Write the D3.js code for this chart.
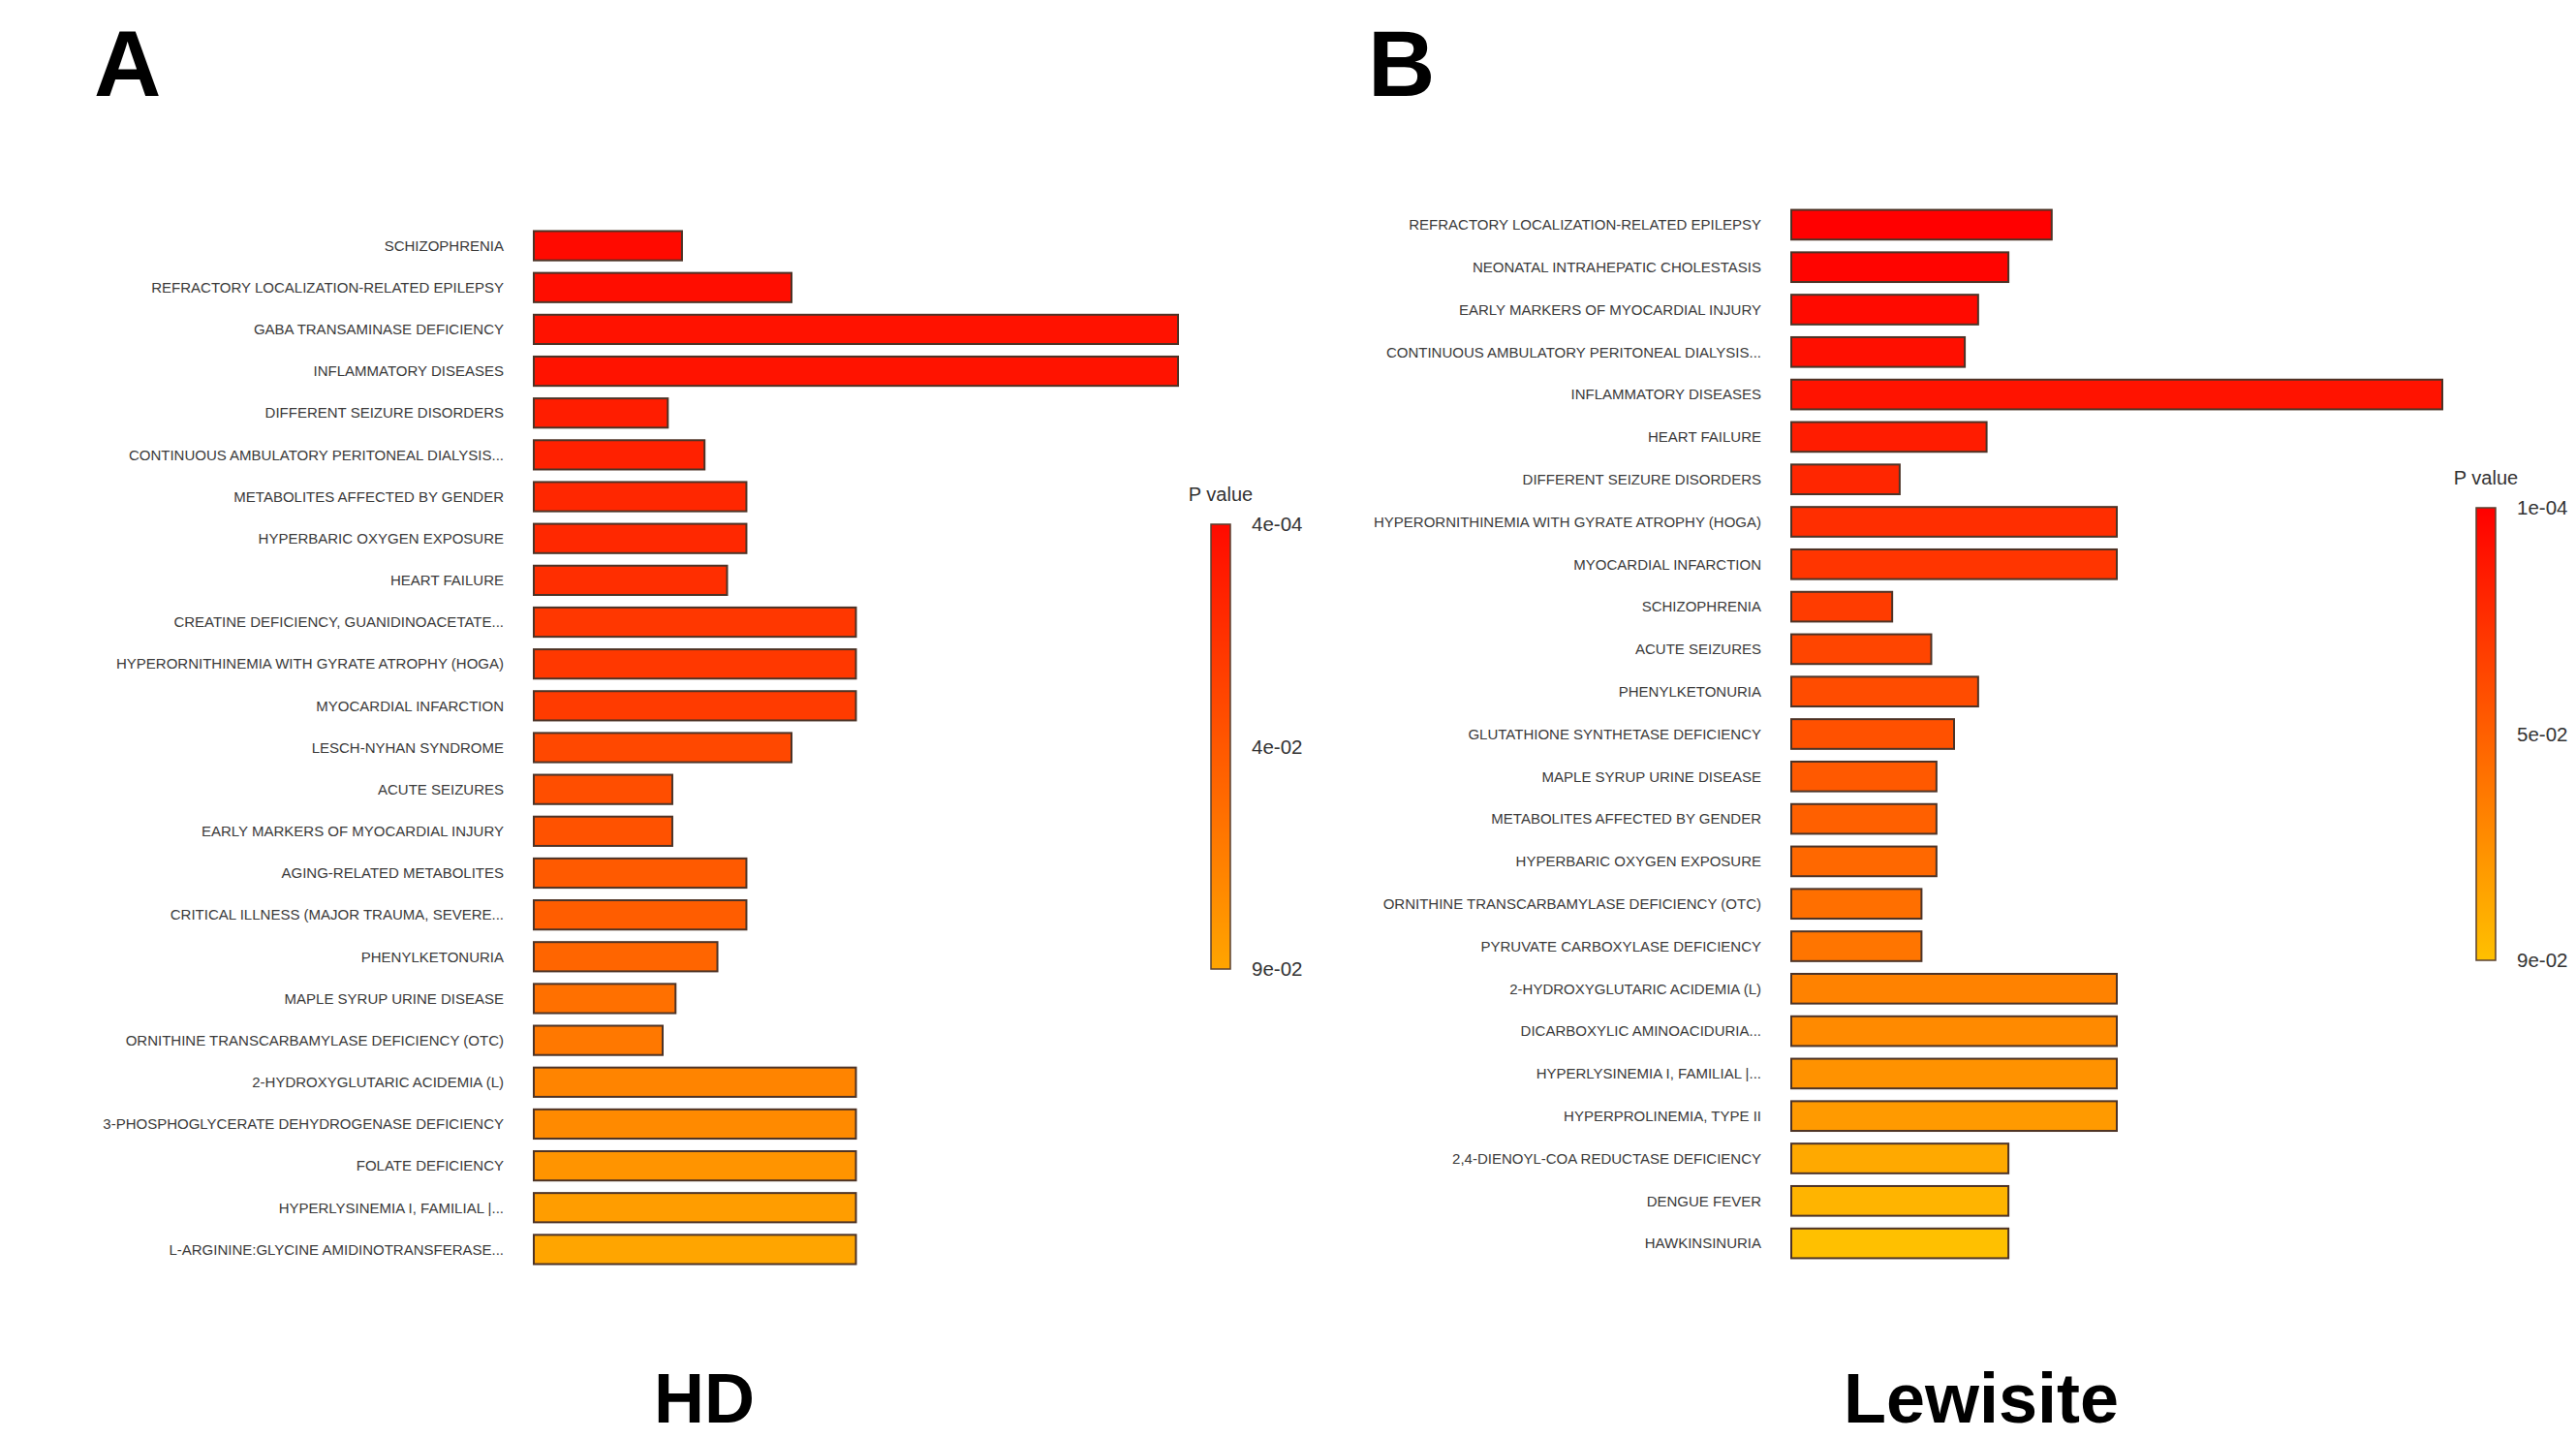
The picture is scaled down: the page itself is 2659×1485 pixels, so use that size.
<!DOCTYPE html>
<html>
<head>
<meta charset="utf-8">
<script src="https://cdn.jsdelivr.net/npm/d3@7"></script>
<style>
  body { margin: 0; background: #fff; }
  text { font-family: "Liberation Sans", Arial, sans-serif; }
</style>
</head>
<body>
<div id="chart"></div>
<script>
// panel A : HD
var hdCategories = [
  "SCHIZOPHRENIA",
  "REFRACTORY LOCALIZATION-RELATED EPILEPSY",
  "GABA TRANSAMINASE DEFICIENCY",
  "INFLAMMATORY DISEASES",
  "DIFFERENT SEIZURE DISORDERS",
  "CONTINUOUS AMBULATORY PERITONEAL DIALYSIS...",
  "METABOLITES AFFECTED BY GENDER",
  "HYPERBARIC OXYGEN EXPOSURE",
  "HEART FAILURE",
  "CREATINE DEFICIENCY, GUANIDINOACETATE...",
  "HYPERORNITHINEMIA WITH GYRATE ATROPHY (HOGA)",
  "MYOCARDIAL INFARCTION",
  "LESCH-NYHAN SYNDROME",
  "ACUTE SEIZURES",
  "EARLY MARKERS OF MYOCARDIAL INJURY",
  "AGING-RELATED METABOLITES",
  "CRITICAL ILLNESS (MAJOR TRAUMA, SEVERE...",
  "PHENYLKETONURIA",
  "MAPLE SYRUP URINE DISEASE",
  "ORNITHINE TRANSCARBAMYLASE DEFICIENCY (OTC)",
  "2-HYDROXYGLUTARIC ACIDEMIA (L)",
  "3-PHOSPHOGLYCERATE DEHYDROGENASE DEFICIENCY",
  "FOLATE DEFICIENCY",
  "HYPERLYSINEMIA I, FAMILIAL |...",
  "L-ARGININE:GLYCINE AMIDINOTRANSFERASE..."
];
var hdRatio = [4.6, 8.0, 20, 20, 4.16, 5.3, 6.6, 6.6, 6.0, 10, 10, 10, 8.0, 4.3, 4.3,
               6.6, 6.6, 5.7, 4.4, 4.0, 10, 10, 10, 10, 10];
var hdPValue = [0.0004, 0.0021, 0.0052, 0.0058, 0.0112, 0.0135, 0.0171, 0.0178, 0.0210,
                0.0262, 0.0270, 0.0285, 0.0362, 0.0398, 0.0420, 0.0468, 0.0485, 0.0531,
                0.0594, 0.0640, 0.0712, 0.0745, 0.0801, 0.0856, 0.0900];
var hdLegendTicks = ["4e-04", "4e-02", "9e-02"];

// panel B : Lewisite
var lewCategories = [
  "REFRACTORY LOCALIZATION-RELATED EPILEPSY",
  "NEONATAL INTRAHEPATIC CHOLESTASIS",
  "EARLY MARKERS OF MYOCARDIAL INJURY",
  "CONTINUOUS AMBULATORY PERITONEAL DIALYSIS...",
  "INFLAMMATORY DISEASES",
  "HEART FAILURE",
  "DIFFERENT SEIZURE DISORDERS",
  "HYPERORNITHINEMIA WITH GYRATE ATROPHY (HOGA)",
  "MYOCARDIAL INFARCTION",
  "SCHIZOPHRENIA",
  "ACUTE SEIZURES",
  "PHENYLKETONURIA",
  "GLUTATHIONE SYNTHETASE DEFICIENCY",
  "MAPLE SYRUP URINE DISEASE",
  "METABOLITES AFFECTED BY GENDER",
  "HYPERBARIC OXYGEN EXPOSURE",
  "ORNITHINE TRANSCARBAMYLASE DEFICIENCY (OTC)",
  "PYRUVATE CARBOXYLASE DEFICIENCY",
  "2-HYDROXYGLUTARIC ACIDEMIA (L)",
  "DICARBOXYLIC AMINOACIDURIA...",
  "HYPERLYSINEMIA I, FAMILIAL |...",
  "HYPERPROLINEMIA, TYPE II",
  "2,4-DIENOYL-COA REDUCTASE DEFICIENCY",
  "DENGUE FEVER",
  "HAWKINSINURIA"
];
var lewRatio = [8.0, 6.67, 5.74, 5.33, 20, 6.0, 3.33, 10, 10, 3.1, 4.3, 5.74, 5.0,
                4.46, 4.46, 4.46, 4.0, 4.0, 10, 10, 10, 10, 6.67, 6.67, 6.67];
var lewPValue = [0.0001, 0.0021, 0.0048, 0.0073, 0.0091, 0.0134, 0.0178, 0.0215, 0.0248,
                 0.0283, 0.0322, 0.0356, 0.0381, 0.0417, 0.0452, 0.0489, 0.0523, 0.0551,
                 0.0612, 0.0648, 0.0683, 0.0720, 0.0792, 0.0845, 0.0900];
var lewLegendTicks = ["1e-04", "5e-02", "9e-02"];

var width = 2659, height = 1485;

var svg = d3.select("#chart").append("svg")
  .attr("width", width)
  .attr("height", height)
  .style("background", "#fff");

var defs = svg.append("defs");

function drawPanel(p) {
  var rows = p.categories.map(function(c, i) {
    return { name: c, ratio: p.ratio[i], pval: p.pval[i] };
  });

  var x = d3.scaleLinear().domain([0, 20]).range([p.barLeft, p.barLeft + p.barMax]);
  var y = d3.scaleBand().domain(p.categories).range(p.yRange)
    .paddingInner(0.3).paddingOuter(0.15);
  var color = d3.scaleLinear()
    .domain(d3.extent(p.pval))
    .range(p.colors)
    .interpolate(d3.interpolateRgb);

  var g = svg.append("g");

  g.selectAll("rect.bar").data(rows).enter()
    .append("rect")
      .attr("class", "bar")
      .attr("x", x(0))
      .attr("y", function(d) { return y(d.name); })
      .attr("width", function(d) { return x(d.ratio) - x(0); })
      .attr("height", y.bandwidth())
      .attr("fill", function(d) { return color(d.pval); })
      .attr("stroke", "#4d3326")
      .attr("stroke-width", 2);

  // category labels
  g.selectAll("text.lab").data(rows).enter()
    .append("text")
      .attr("class", "lab")
      .attr("x", x(0) - 31)
      .attr("y", function(d) { return y(d.name) + y.bandwidth() / 2; })
      .attr("dy", "0.35em")
      .attr("text-anchor", "end")
      .style("font-size", "15px")
      .style("fill", "#3a3a3a")
      .text(function(d) { return d.name; });

  // colour legend
  var gradId = "grad" + p.id;
  var grad = defs.append("linearGradient").attr("id", gradId)
    .attr("x1", 0).attr("y1", 0).attr("x2", 0).attr("y2", 1);
  grad.selectAll("stop").data(d3.range(0, 1.0001, 0.1)).enter()
    .append("stop")
      .attr("offset", function(t) { return t; })
      .attr("stop-color", function(t) { return d3.interpolateRgb(p.colors[0], p.colors[1])(t); });

  var lg = svg.append("g");
  lg.append("rect")
    .attr("x", p.legendX)
    .attr("y", p.legendY[0])
    .attr("width", 20)
    .attr("height", p.legendY[1] - p.legendY[0])
    .attr("fill", "url(#" + gradId + ")")
    .attr("stroke", "#5a4030")
    .attr("stroke-width", 1.5);

  lg.append("text")
    .attr("x", p.legendX + 10)
    .attr("y", p.legendY[0] - 24)
    .attr("text-anchor", "middle")
    .style("font-size", "20px")
    .style("fill", "#333")
    .text("P value");

  var ly = d3.scalePoint().domain(p.ticks).range(p.legendY);
  lg.selectAll("text.tick").data(p.ticks).enter()
    .append("text")
      .attr("class", "tick")
      .attr("x", p.legendX + 42)
      .attr("y", function(d) { return ly(d); })
      .attr("dy", "0.35em")
      .style("font-size", "20.5px")
      .style("fill", "#333")
      .text(function(d) { return d; });

  // panel letter and title
  svg.append("text")
    .attr("x", p.letterX).attr("y", 99)
    .style("font-size", "96px").style("font-weight", "bold")
    .text(p.letter);

  svg.append("text")
    .attr("x", p.titleX).attr("y", 1468)
    .attr("text-anchor", "middle")
    .style("font-size", "72px").style("font-weight", "bold")
    .text(p.title);
}

drawPanel({
  id: "A", letter: "A", title: "HD",
  categories: hdCategories, ratio: hdRatio, pval: hdPValue, ticks: hdLegendTicks,
  barLeft: 551, barMax: 665, yRange: [232, 1311],
  colors: ["#ff0a00", "#ffa500"],
  legendX: 1250, legendY: [541, 1000],
  letterX: 97, titleX: 727
});

drawPanel({
  id: "B", letter: "B", title: "Lewisite",
  categories: lewCategories, ratio: lewRatio, pval: lewPValue, ticks: lewLegendTicks,
  barLeft: 1849, barMax: 672, yRange: [210, 1305],
  colors: ["#ff0000", "#ffc000"],
  legendX: 2556, legendY: [524, 991],
  letterX: 1412, titleX: 2045
});
</script>
</body>
</html>
